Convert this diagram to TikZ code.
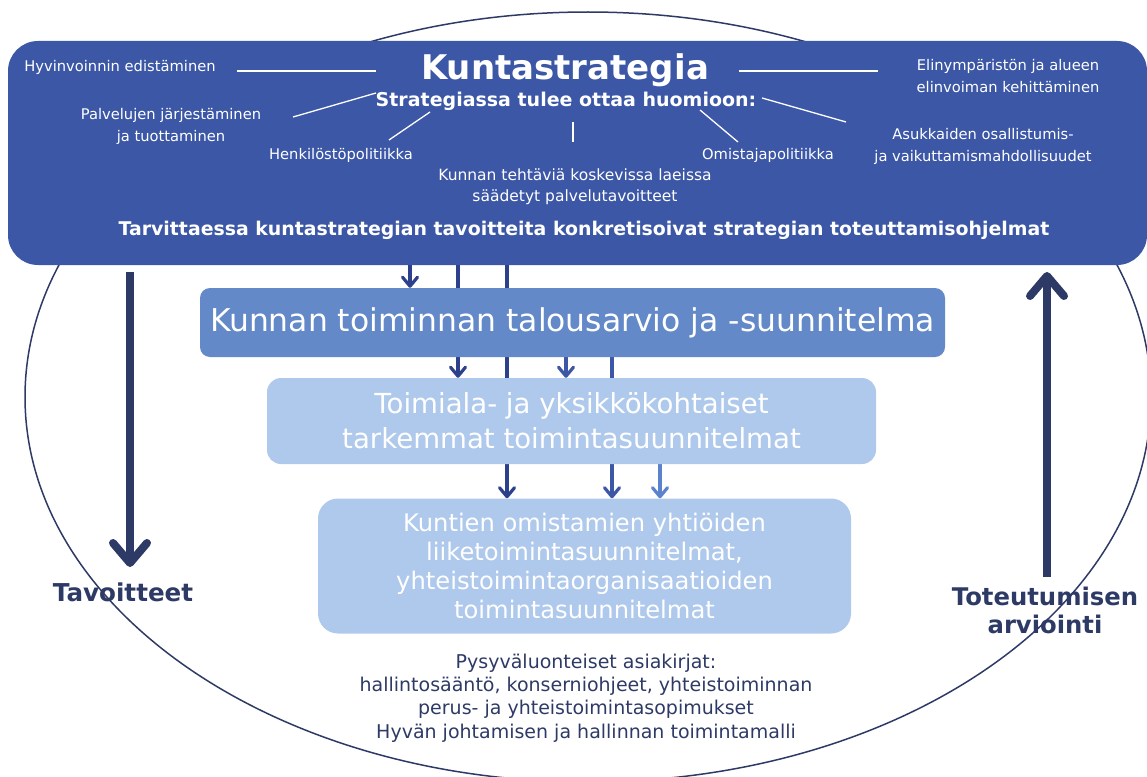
\documentclass[tikz,border=0pt]{standalone}
\usepackage{fontspec}
\setmainfont{DejaVu Sans}
\usetikzlibrary{arrows.meta}
\definecolor{cbig}{RGB}{59,87,166}
\definecolor{cmid}{RGB}{99,137,200}
\definecolor{clight}{RGB}{175,201,236}
\definecolor{cnavy}{RGB}{46,58,102}
\definecolor{cdark}{RGB}{45,64,140}
\definecolor{carr}{RGB}{91,130,204}
\newcommand{\fsz}[2]{\fontsize{#1}{#2}\selectfont}
\pgfdeclarelayer{bg}
\pgfsetlayers{bg,main}
\begin{document}
\begin{tikzpicture}[x=1pt,y=-1pt,
  bigbox/.style={fill=cbig,rounded corners=30pt,inner sep=0pt},
  midbox/.style={fill=cmid,rounded corners=10pt,inner sep=0pt,text=white,align=center},
  lightbox/.style={fill=clight,rounded corners=14pt,inner sep=0pt,text=white,align=center},
  wtxt/.style={text=white,align=center,inner sep=0pt},
  ntxt/.style={text=cnavy,align=center,inner sep=0pt},
  wline/.style={draw=white,line width=1.3pt},
  smallarr/.style={line width=3.2pt,-{Straight Barb[length=9pt,width=15pt,round]}},
  bigarr/.style={draw=cnavy,line width=8pt,-{Straight Barb[length=20pt,width=34pt,round]}}
]
\useasboundingbox (0,0) rectangle (1147,776);

% main strategy box
\node[bigbox,minimum width=1139pt,minimum height=224pt] (S) at (577.5,153) {};

% texts in strategy box
\node[wtxt,font=\bfseries\fsz{34}{40}] (K) at (565,70) {Kuntastrategia};
\node[wtxt,font=\bfseries\fsz{19}{23}] (SH) at (566,101) {Strategiassa tulee ottaa huomioon:};
\node[wtxt,font=\fsz{14.7}{22}] (hyv) at (120,67) {Hyvinvoinnin edistäminen};
\node[wtxt,font=\fsz{14.7}{22}] (pal) at (171,126) {Palvelujen järjestäminen\\ja tuottaminen};
\node[wtxt,font=\fsz{14.7}{22}] (hen) at (341,155) {Henkilöstöpolitiikka};
\node[wtxt,font=\fsz{15.5}{21}] (kun) at (575,186.5) {Kunnan tehtäviä koskevissa laeissa\\säädetyt palvelutavoitteet};
\node[wtxt,font=\fsz{14.7}{22}] (omi) at (768,155) {Omistajapolitiikka};
\node[wtxt,font=\fsz{14.7}{22}] (asu) at (983,146.5) {Asukkaiden osallistumis-\\ja vaikuttamismahdollisuudet};
\node[wtxt,font=\fsz{14.7}{22}] (eli) at (1008,76) {Elinympäristön ja alueen\\elinvoiman kehittäminen};
\node[wtxt,font=\bfseries\fsz{18.9}{22}] (tar) at (584,230) {Tarvittaessa kuntastrategian tavoitteita konkretisoivat strategian toteuttamisohjelmat};

% white lines
\coordinate (l1a) at (237,71);  \coordinate (l1b) at (376,71);
\coordinate (l2a) at (739,71);  \coordinate (l2b) at (878,71);
\coordinate (l3a) at (376,93);  \coordinate (l3b) at (293,117);
\coordinate (l4a) at (430,112); \coordinate (l4b) at (389,140);
\coordinate (l5a) at (573,122); \coordinate (l5b) at (573,142);
\coordinate (l6a) at (700,110); \coordinate (l6b) at (738,142);
\coordinate (l7a) at (762,98);  \coordinate (l7b) at (846,122);
\draw[wline] (l1a) -- (l1b);
\draw[wline] (l2a) -- (l2b);
\draw[wline] (l3a) -- (l3b);
\draw[wline] (l4a) -- (l4b);
\draw[wline] (l5a) -- (l5b);
\draw[wline] (l6a) -- (l6b);
\draw[wline] (l7a) -- (l7b);

% plan boxes
\node[midbox,minimum width=745pt,minimum height=69pt,font=\fsz{31.4}{36}] (B2) at (572.5,322.5) {Kunnan toiminnan talousarvio ja -suunnitelma};
\node[lightbox,minimum width=609pt,minimum height=86pt,font=\fsz{27.6}{35}] (B3) at (571.5,421) {Toimiala- ja yksikkökohtaiset\\tarkemmat toimintasuunnitelmat};
\node[lightbox,rounded corners=20pt,minimum width=533pt,minimum height=135pt,font=\fsz{24.2}{29}] (B4) at (584.5,566) {Kuntien omistamien yhtiöiden\\liiketoimintasuunnitelmat,\\yhteistoimintaorganisaatioiden\\toimintasuunnitelmat};

% bottom text
\node[ntxt,font=\fsz{19}{23.3}] (pys) at (586,698) {Pysyväluonteiset asiakirjat:\\hallintosääntö, konserniohjeet, yhteistoiminnan\\perus- ja yhteistoimintasopimukset\\Hyvän johtamisen ja hallinnan toimintamalli};

% side labels
\node[ntxt,font=\bfseries\fsz{24.6}{28}] (tav) at (123,592) {Tavoitteet};
\node[ntxt,font=\bfseries\fsz{24.3}{28}] (tot) at (1045,610) {Toteutumisen\\arviointi};

\begin{pgfonlayer}{bg}
  \draw[cnavy,line width=1.5pt] (588,397) ellipse [x radius=563, y radius=385];
  % connectors between boxes
  \draw[smallarr,cdark] (S.south -| 410,0) -- (B2.north -| 410,0);
  \draw[smallarr,cdark] (S.south -| 458,0) -- (B3.north -| 458,0);
  \draw[smallarr,cdark] (S.south -| 507,0) -- (B4.north -| 507,0);
  \draw[smallarr,cbig] (B2.south -| 566,0) -- (B3.north -| 566,0);
  \draw[smallarr,cbig] (B2.south -| 612,0) -- (B4.north -| 612,0);
  \draw[smallarr,carr] (B3.south -| 660,0) -- (B4.north -| 660,0);
\end{pgfonlayer}

% big side arrows
\coordinate (la) at (130,272); \coordinate (lb) at (130,567);
\coordinate (ra) at (1047,577); \coordinate (rb) at (1047,272);
\draw[bigarr] (la) -- (lb);
\draw[bigarr] (ra) -- (rb);
\end{tikzpicture}
\end{document}
